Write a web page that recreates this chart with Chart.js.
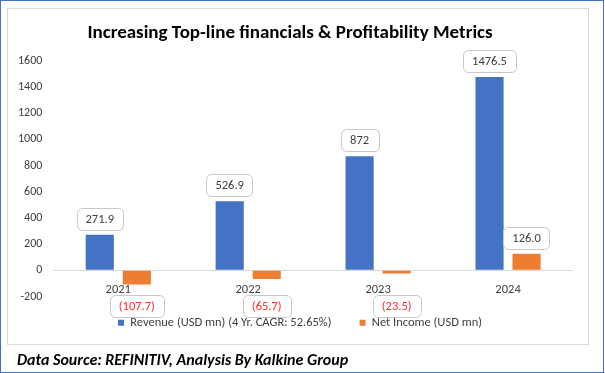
<!DOCTYPE html>
<html>
<head>
<meta charset="utf-8">
<script src="https://cdn.jsdelivr.net/npm/chart.js"></script>
<style>
  body { margin: 0; background: #fff; }
  #wrap { position: relative; width: 605px; height: 373px; }
  #myChart { position: absolute; left: 0; top: 0; }
  #outer { position: absolute; left: 0; top: 0; width: 604px; height: 373px; box-sizing: border-box; border: 1px solid #4472C4; }
  #inner { position: absolute; left: 7px; top: 8px; width: 582px; height: 337px; box-sizing: border-box; border: 1px solid #D9D9D9; }
  #source { position: absolute; left: 17px; top: 350px; font: italic bold 16px Calibri, Carlito, Lato, sans-serif; color: #000; }
</style>
</head>
<body>
<div id="wrap">
  <div id="outer"></div>
  <div id="inner"></div>
  <canvas id="myChart" width="605" height="373"></canvas>
  <div id="source">Data Source: REFINITIV, Analysis By Kalkine Group</div>
</div>
<script>
var years = ['2021', '2022', '2023', '2024'];
var revenue = [271.9, 526.9, 872, 1476.5];
var netIncome = [-107.7, -65.7, -23.5, 126.0];
var seriesNames = ['Revenue (USD mn) (4 Yr. CAGR: 52.65%)', 'Net Income (USD mn)'];
var yMin = -200;
var yMax = 1600;
var yStep = 200;

var FONT = 'Calibri, Carlito, Lato, sans-serif';

// boxed value labels above / below the bars
var boxLabels = {
  id: 'boxLabels',
  afterLayout: function(chart) {
    // nudge the legend up and to the right, like the excel original
    chart.legend.top -= 8;
    chart.legend.bottom -= 8;
    chart.legend.left += 10;
    chart.legend.right += 10;
  },
  afterDatasetsDraw: function(chart) {
    var ctx = chart.ctx;
    var yScale = chart.scales.y;
    ctx.save();
    ctx.font = '12.5px ' + FONT;
    ctx.textAlign = 'center';
    ctx.textBaseline = 'middle';
    chart.data.datasets.forEach(function(ds, i) {
      chart.getDatasetMeta(i).data.forEach(function(bar, j) {
        var v = ds.data[j];
        var text;
        if (i === 0) {
          text = String(v);
        } else {
          text = v < 0 ? '(' + Math.abs(v).toFixed(1) + ')' : v.toFixed(1);
        }
        var w = Math.max(ctx.measureText(text).width + 18, 38);
        var h = 22;
        var top = v >= 0 ? bar.y - 5 - h : yScale.getPixelForValue(yMin) - 2;
        var left = Math.round(bar.x - w / 2);
        ctx.beginPath();
        ctx.roundRect(left + 0.5, Math.round(top) + 0.5, Math.round(w), h, 5);
        ctx.fillStyle = '#fff';
        ctx.fill();
        ctx.strokeStyle = '#C8C8C8';
        ctx.lineWidth = 1;
        ctx.stroke();
        ctx.fillStyle = v < 0 ? '#FF2B2B' : '#404040';
        ctx.fillText(text, bar.x, Math.round(top) + h / 2 + 1);
      });
    });
    ctx.restore();
  }
};

var config = {
  type: 'bar',
  data: {
    labels: years,
    datasets: [{
      label: seriesNames[0],
      data: revenue,
      backgroundColor: '#4472C4'
    }, {
      label: seriesNames[1],
      data: netIncome,
      backgroundColor: '#ED7D31'
    }]
  },
  options: {
    responsive: false,
    animation: false,
    devicePixelRatio: 1,
    categoryPercentage: 0.57,
    barPercentage: 0.76,
    layout: {
      padding: { top: 10, left: 7, right: 32, bottom: 26 }
    },
    plugins: {
      title: {
        display: true,
        text: 'Increasing Top-line financials & Profitability Metrics',
        color: '#000',
        font: { family: FONT, size: 19, weight: 'bold' },
        padding: { top: 12, bottom: 16 }
      },
      legend: {
        position: 'bottom',
        labels: {
          boxWidth: 6,
          boxHeight: 6,
          padding: 28,
          color: '#404040',
          font: { family: FONT, size: 12.5 }
        }
      },
      tooltip: { enabled: false }
    },
    scales: {
      x: {
        position: { y: 0 },
        grid: { display: false },
        border: { display: false },
        ticks: {
          padding: 4,
          color: '#404040',
          font: { family: FONT, size: 12.5 }
        }
      },
      y: {
        min: yMin,
        max: yMax,
        border: { display: false },
        grid: {
          drawTicks: false,
          color: function(c) {
            return c.tick && c.tick.value === 0 ? '#D9D9D9' : 'rgba(0,0,0,0)';
          }
        },
        ticks: {
          stepSize: yStep,
          padding: 11,
          color: '#404040',
          font: { family: FONT, size: 12 },
          callback: function(value) {
            return String(value);
          }
        }
      }
    }
  },
  plugins: [boxLabels]
};

var myChart = new Chart(document.getElementById('myChart'), config);
</script>
</body>
</html>
